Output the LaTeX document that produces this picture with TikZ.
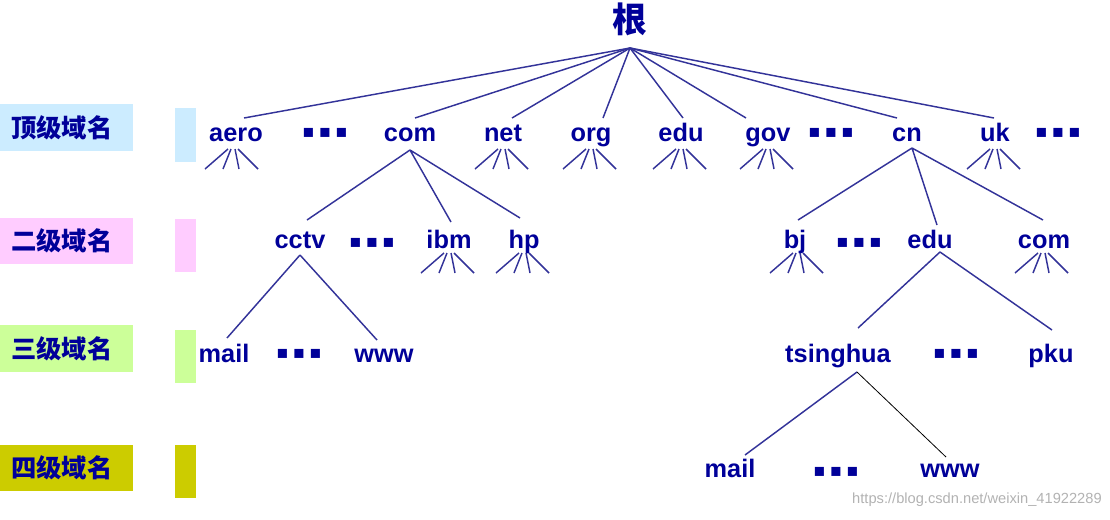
\documentclass[tikz,border=0pt]{standalone}
\usepackage{fontspec}
\setmainfont{Liberation Sans}
\newfontfamily\cjk{Noto Sans CJK SC}
\definecolor{tx}{HTML}{000099}
\definecolor{ln}{HTML}{333399}
\definecolor{cA}{HTML}{CCECFF}
\definecolor{cB}{HTML}{FFCCFF}
\definecolor{cC}{HTML}{CCFF99}
\definecolor{cD}{HTML}{CCCC00}
\tikzset{
 nm/.style={text=tx,font=\fontsize{19}{20}\selectfont\bfseries,inner sep=1pt,anchor=base},
 dts/.style={text=tx,font=\fontsize{14}{14}\selectfont,inner sep=0pt},
 lbl/.style={text=tx,font=\cjk\fontsize{19}{20}\selectfont\bfseries,inner sep=0pt},
 ed/.style={ln,line width=1.1pt},
}
\newcommand{\myfan}[2]{\draw[ed] (#1-5,#2) -- (#1-28,#2+20) (#1-2,#2) -- (#1-10,#2+20) (#1+2,#2) -- (#1+6,#2+20) (#1+5,#2) -- (#1+25,#2+20);}
\begin{document}
\begin{tikzpicture}[x=0.75pt,y=-0.75pt]
\useasboundingbox (0,0) rectangle (1110,519);
% level labels
\fill[cA] (0,104) rectangle (133,151); \fill[cA] (175,108) rectangle (196,162);
\fill[cB] (0,218) rectangle (133,264); \fill[cB] (175,219) rectangle (196,272);
\fill[cC] (0,325) rectangle (133,372); \fill[cC] (175,330) rectangle (196,383);
\fill[cD] (0,445) rectangle (133,491); \fill[cD] (175,445) rectangle (196,498);
\node[lbl] (l1) at (62,128) {顶级域名};
\node[lbl] (l2) at (62,241) {二级域名};
\node[lbl] (l3) at (62,349) {三级域名};
\node[lbl] (l4) at (62,468) {四级域名};
% root
\node[text=tx,font=\cjk\fontsize{26}{28}\selectfont\bfseries,inner sep=1pt] (root) at (630,19) {根};
\coordinate (r) at (630,48);
% level 1
\foreach \n/\t/\x in {aero/aero/236,com/com/410,net/net/503,org/org/591,edu1/edu/681,gov/gov/768,cn/cn/907,uk/uk/995}
  \node[nm] (\n) at (\x,141) {\t};
\node[dts] (d1) at (325,133) {■ ■ ■};
\node[dts] (d2) at (831,133) {■ ■ ■};
\node[dts] (d3) at (1058,133) {■ ■ ■};
\foreach \n/\x in {aero/244,com/415,net/512,org/603,edu1/683,gov/746,cn/897,uk/994}
  \draw[ed] (r) -- (\x,118);
% level 2
\foreach \n/\t/\x in {cctv/cctv/300,ibm/ibm/449,hp/hp/524,bj/bj/795,edu2/edu/930,com2/com/1044}
  \node[nm] (\n) at (\x,248) {\t};
\node[dts] (d4) at (372,243) {■ ■ ■};
\node[dts] (d5) at (859,243) {■ ■ ■};
\draw[ed] (410,150) -- (307,220) (410,150) -- (451,222) (410,150) -- (520,218);
\draw[ed] (912,148) -- (798,220) (912,148) -- (937,225) (912,148) -- (1043,220);
% level 3
\foreach \n/\t/\x in {mail/mail/224,www/www/384,tsing/tsinghua/838,pku/pku/1051}
  \node[nm] (\n) at (\x,362) {\t};
\node[dts] (d6) at (299,354) {■ ■ ■};
\node[dts] (d7) at (956,354) {■ ■ ■};
\draw[ed] (300,255) -- (227,338) (300,255) -- (377,340);
\draw[ed] (940,252) -- (858,328) (940,252) -- (1052,330);
% level 4
\node[nm] (mail2) at (730,477) {mail};
\node[nm] (www2) at (950,477) {www};
\node[dts] (d8) at (836,472) {■ ■ ■};
\draw[ed] (857,372) -- (745,455);
\draw[black,line width=0.6pt] (857,372) -- (946,457);
% fans
\foreach \x in {233,503,591,681,768,995} {\myfan{\x}{149}}
\foreach \x in {449,524,798,1043} {\myfan{\x}{253}}
\node[text=gray!60,font=\fontsize{11}{12}\selectfont,anchor=east,inner sep=0pt] (wm) at (1102,500) {https://blog.csdn.net/weixin\_41922289};
\end{tikzpicture}
\end{document}
